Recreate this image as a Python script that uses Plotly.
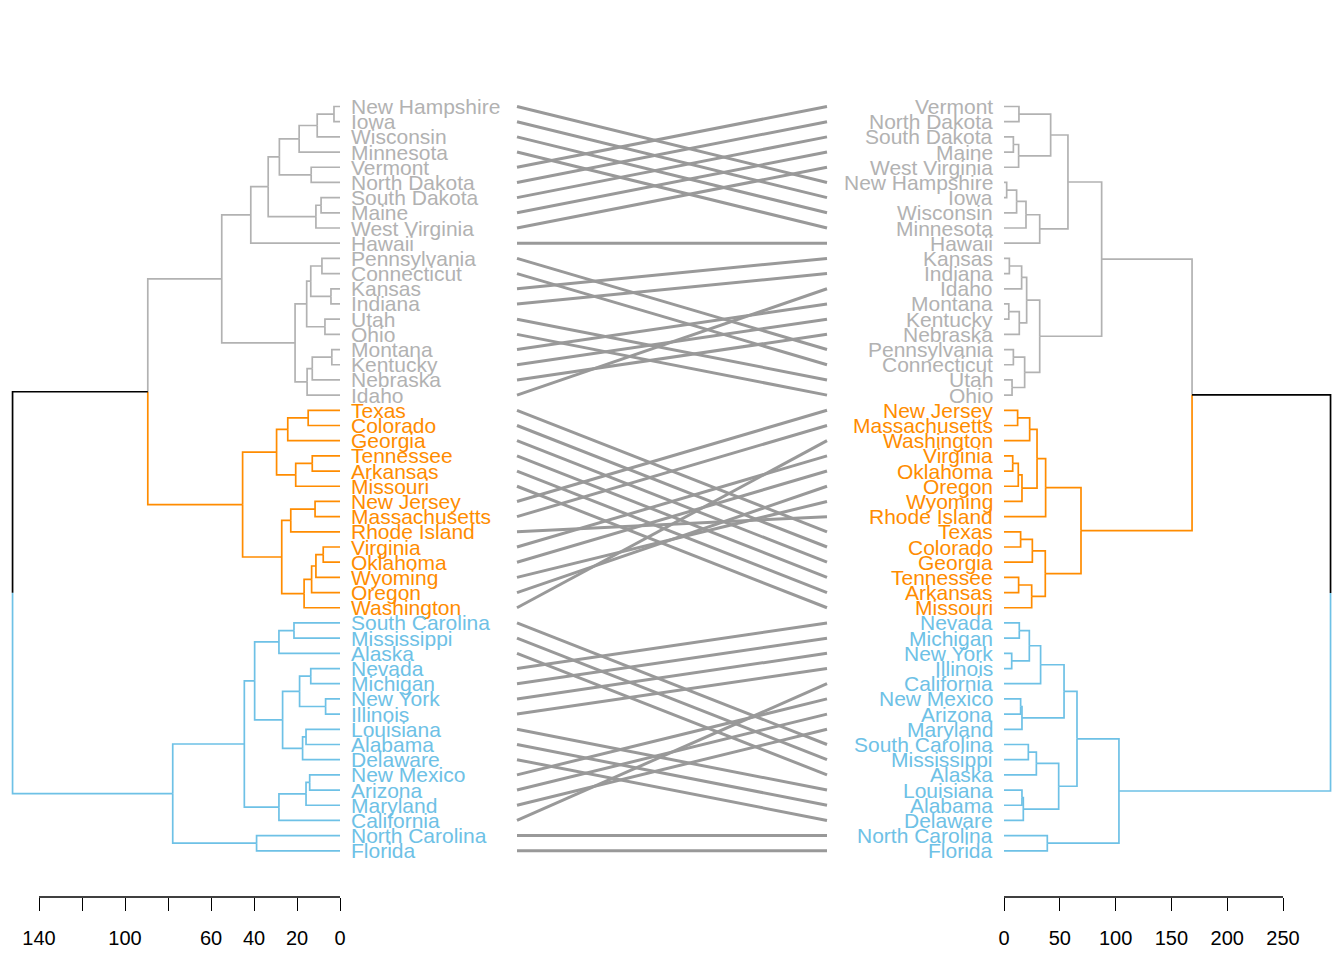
import plotly.graph_objects as go

# ---------------- data ----------------
left_order = [
    "New Hampshire", "Iowa", "Wisconsin", "Minnesota", "Vermont", "North Dakota",
    "South Dakota", "Maine", "West Virginia", "Hawaii", "Pennsylvania", "Connecticut",
    "Kansas", "Indiana", "Utah", "Ohio", "Montana", "Kentucky", "Nebraska", "Idaho",
    "Texas", "Colorado", "Georgia", "Tennessee", "Arkansas", "Missouri", "New Jersey",
    "Massachusetts", "Rhode Island", "Virginia", "Oklahoma", "Wyoming", "Oregon",
    "Washington", "South Carolina", "Mississippi", "Alaska", "Nevada", "Michigan",
    "New York", "Illinois", "Louisiana", "Alabama", "Delaware", "New Mexico", "Arizona",
    "Maryland", "California", "North Carolina", "Florida",
]

right_order = [
    "Vermont", "North Dakota", "South Dakota", "Maine", "West Virginia", "New Hampshire",
    "Iowa", "Wisconsin", "Minnesota", "Hawaii", "Kansas", "Indiana", "Idaho", "Montana",
    "Kentucky", "Nebraska", "Pennsylvania", "Connecticut", "Utah", "Ohio", "New Jersey",
    "Massachusetts", "Washington", "Virginia", "Oklahoma", "Oregon", "Wyoming",
    "Rhode Island", "Texas", "Colorado", "Georgia", "Tennessee", "Arkansas", "Missouri",
    "Nevada", "Michigan", "New York", "Illinois", "California", "New Mexico", "Arizona",
    "Maryland", "South Carolina", "Mississippi", "Alaska", "Louisiana", "Alabama",
    "Delaware", "North Carolina", "Florida",
]

# merges: (child_a, child_b, height); a child is a leaf name or the index of an earlier merge
left_merges = [
    ("New Hampshire", "Iowa", 2.8), (0, "Wisconsin", 10.6), (1, "Minnesota", 19.0),
    ("Vermont", "North Dakota", 13.4), (2, 3, 28.2), ("South Dakota", "Maine", 8.8),
    (5, "West Virginia", 11.2), (4, 6, 33.4), (7, "Hawaii", 41.5),
    ("Pennsylvania", "Connecticut", 8.4), ("Kansas", "Indiana", 4.2), (9, 10, 13.6),
    ("Utah", "Ohio", 7.0), (11, 12, 15.5), ("Montana", "Kentucky", 3.8),
    (14, "Nebraska", 12.9), (15, "Idaho", 15.3), (13, 16, 20.9), (8, 17, 55.0),
    ("Texas", "Colorado", 14.8), (19, "Georgia", 24.3), ("Tennessee", "Arkansas", 12.9),
    (21, "Missouri", 20.6), (20, 22, 29.5), ("New Jersey", "Massachusetts", 11.6),
    (24, "Rhode Island", 22.9), ("Virginia", "Oklahoma", 7.8), (26, "Wyoming", 11.2),
    (27, "Oregon", 13.2), (28, "Washington", 16.7), (25, 29, 27.1), (23, 30, 45.3),
    (18, 31, 89.4), ("South Carolina", "Mississippi", 21.4), (33, "Alaska", 28.4),
    ("Nevada", "Michigan", 13.6), ("New York", "Illinois", 6.7), (35, 36, 18.8),
    ("Louisiana", "Alabama", 15.8), (38, "Delaware", 17.4), (37, 39, 26.7),
    (34, 40, 39.7), ("New Mexico", "Arizona", 14.1), (42, "Maryland", 15.8),
    (43, "California", 28.4), (41, 44, 44.5), ("North Carolina", "Florida", 38.8),
    (45, 46, 77.8), (32, 47, 152.3),
]

right_merges = [
    ("Vermont", "North Dakota", 13.4), ("South Dakota", "Maine", 8.4),
    (1, "West Virginia", 13.1), (0, 2, 41.8), ("New Hampshire", "Iowa", 2.4),
    (4, "Wisconsin", 11.3), (5, "Minnesota", 19.7), (6, "Hawaii", 32.0), (3, 7, 57.3),
    ("Kansas", "Indiana", 4.8), (9, "Idaho", 15.8), ("Montana", "Kentucky", 4.3),
    (11, "Nebraska", 13.7), (10, 12, 20.3), ("Pennsylvania", "Connecticut", 8.4),
    ("Utah", "Ohio", 7.2), (14, 15, 18.5), (13, 16, 32.0), (8, 17, 87.5),
    ("New Jersey", "Massachusetts", 12.2), (19, "Washington", 23.0),
    ("Virginia", "Oklahoma", 7.8), (21, "Oregon", 12.8), (22, "Wyoming", 16.1),
    (20, 23, 29.6), (24, "Rhode Island", 37.3), ("Texas", "Colorado", 14.9),
    (26, "Georgia", 25.4), ("Tennessee", "Arkansas", 13.1), (28, "Missouri", 24.8),
    (27, 29, 37.0), (25, 30, 69.0), (18, 31, 168.5), ("Nevada", "Michigan", 13.7),
    ("New York", "Illinois", 6.9), (33, 34, 22.7), (35, "California", 32.8),
    ("New Mexico", "Arizona", 14.9), (37, "Maryland", 16.1), (36, 38, 53.8),
    ("South Carolina", "Mississippi", 21.8), (40, "Alaska", 29.0),
    ("Louisiana", "Alabama", 16.1), (42, "Delaware", 17.3), (41, 43, 49.0),
    (39, 44, 65.4), ("North Carolina", "Florida", 38.8), (45, 46, 103.0),
    (32, 47, 292.6),
]

cluster_gray = left_order[:20]
cluster_orange = left_order[20:34]
cluster_blue = left_order[34:]

left_ticks = [140, 120, 100, 80, 60, 40, 20, 0]
left_ticktext = ["140", "", "100", "", "60", "40", "20", "0"]
right_ticks = [0, 50, 100, 150, 200, 250]
right_ticktext = ["0", "50", "100", "150", "200", "250"]

# ---------------- styles ----------------
GRAY = "#B2B2B2"
ORANGE = "#FF8C00"
BLUE = "#6EC1E6"
BLACK = "#000000"
LINK = "#999999"
FONT = "Liberation Sans, Arial, Helvetica, sans-serif"

# page body has an 8px margin: the figure starts at (8, 8) in the window
OFF = 8
W, H = 1344 - OFF, 960 - OFF


def px(v):
    return v - OFF


leaf_top_px, leaf_step_px = px(106.5), 15.19
axis_px = px(897)

leaf_color = {}
for s in cluster_gray:
    leaf_color[s] = GRAY
for s in cluster_orange:
    leaf_color[s] = ORANGE
for s in cluster_blue:
    leaf_color[s] = BLUE


def build(order, merges):
    pos = {s: i + 1 for i, s in enumerate(order)}
    nodes = []

    def info(c):
        if isinstance(c, str):
            return pos[c], 0.0, leaf_color[c]
        return nodes[c]

    segs = {}
    for a, b, h in merges:
        ya, ha, ca = info(a)
        yb, hb, cb = info(b)
        y = (ya + yb) / 2.0
        col = ca if ca == cb else BLACK
        for yc, hc, cc in ((ya, ha, ca), (yb, hb, cb)):
            xs, ys = segs.setdefault(cc, ([], []))
            xs += [h, h, hc, None]
            ys += [y, yc, yc, None]
        nodes.append((y, h, col))
    return pos, segs


lpos, lsegs = build(left_order, left_merges)
rpos, rsegs = build(right_order, right_merges)

fig = go.Figure()
for col, (xs, ys) in lsegs.items():
    fig.add_trace(go.Scatter(x=xs, y=ys, mode="lines", xaxis="x", yaxis="y",
                             line=dict(color=col, width=1.7), hoverinfo="skip",
                             showlegend=False))
for col, (xs, ys) in rsegs.items():
    fig.add_trace(go.Scatter(x=xs, y=ys, mode="lines", xaxis="x2", yaxis="y",
                             line=dict(color=col, width=1.7), hoverinfo="skip",
                             showlegend=False))

# connecting lines
cx, cy = [], []
for s in left_order:
    cx += [0, 1, None]
    cy += [lpos[s], rpos[s], None]
fig.add_trace(go.Scatter(x=cx, y=cy, mode="lines", xaxis="x3", yaxis="y",
                         line=dict(color=LINK, width=3), hoverinfo="skip",
                         showlegend=False))

# labels
ann = []
for s in left_order:
    ann.append(dict(x=0, y=lpos[s], xref="x", yref="y", text=s, showarrow=False,
                    xanchor="left", yanchor="middle", xshift=9,
                    font=dict(family=FONT, size=21, color=leaf_color[s])))
for s in right_order:
    ann.append(dict(x=0, y=rpos[s], xref="x2", yref="y", text=s, showarrow=False,
                    xanchor="right", yanchor="middle", xshift=-9,
                    font=dict(family=FONT, size=21, color=leaf_color[s])))

# axis lines spanning only the tick range
shapes = [
    dict(type="line", xref="x", yref="paper", x0=min(left_ticks), x1=max(left_ticks),
         y0=1 - axis_px / H, y1=1 - axis_px / H, line=dict(color="black", width=1.5)),
    dict(type="line", xref="x2", yref="paper", x0=min(right_ticks), x1=max(right_ticks),
         y0=1 - axis_px / H, y1=1 - axis_px / H, line=dict(color="black", width=1.5)),
]

# pixel geometry -> axis ranges
l_zero, l_ppu = px(340.0), 2.15
r_zero, r_ppu = px(1004.0), 1.116
l_dom = (0.0, px(517.0))
r_dom = (px(826.0), float(W))
c_dom = (px(510.0), px(834.0))
c0, c1 = px(517.0), px(827.0)

y_top_val = 1 - leaf_top_px / leaf_step_px
y_bot_val = 1 + (axis_px - leaf_top_px) / leaf_step_px

tickfont = dict(family=FONT, size=20, color="black")

fig.update_layout(
    width=W, height=H,
    margin=dict(l=0, r=0, t=0, b=0),
    paper_bgcolor="white", plot_bgcolor="rgba(0,0,0,0)",
    showlegend=False,
    annotations=ann, shapes=shapes,
    xaxis=dict(domain=[l_dom[0] / W, l_dom[1] / W],
               range=[(l_zero - l_dom[0]) / l_ppu, (l_zero - l_dom[1]) / l_ppu],
               anchor="y", tickmode="array", tickvals=left_ticks, ticktext=left_ticktext,
               ticks="outside", ticklen=13, tickwidth=1, tickcolor="black",
               showline=False, showgrid=False, zeroline=False, tickfont=tickfont,
               ticklabelstandoff=10),
    xaxis2=dict(domain=[r_dom[0] / W, r_dom[1] / W],
                range=[(r_dom[0] - r_zero) / r_ppu, (r_dom[1] - r_zero) / r_ppu],
                anchor="y", tickmode="array", tickvals=right_ticks, ticktext=right_ticktext,
                ticks="outside", ticklen=13, tickwidth=1, tickcolor="black",
                showline=False, showgrid=False, zeroline=False, tickfont=tickfont,
                ticklabelstandoff=10),
    xaxis3=dict(domain=[c_dom[0] / W, c_dom[1] / W],
                range=[(c_dom[0] - c0) / (c1 - c0), (c_dom[1] - c0) / (c1 - c0)],
                anchor="y", showticklabels=False, ticks="", showline=False,
                showgrid=False, zeroline=False),
    yaxis=dict(domain=[1 - axis_px / H, 1.0], range=[y_bot_val, y_top_val],
               showticklabels=False, ticks="", showline=False, showgrid=False,
               zeroline=False),
)

fig.write_html("out.html")
